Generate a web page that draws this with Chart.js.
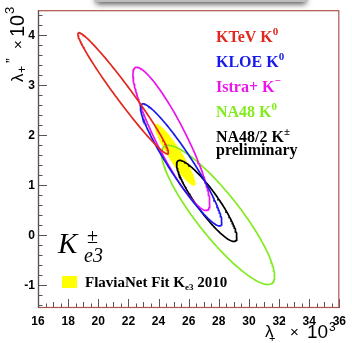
<!DOCTYPE html>
<html>
<head>
<meta charset="utf-8">
<script src="https://cdn.jsdelivr.net/npm/chart.js@4"></script>
<style>
  html, body { margin: 0; padding: 0; background: #fff; }
  #wrap { width: 352px; height: 343px; position: relative; }
</style>
</head>
<body>
<div id="wrap"><canvas id="myChart" width="352" height="343"></canvas></div>
<script>
// contours: centre, sigma along each axis and correlation
const names = ['KTeV', 'KLOE', 'Istra+', 'NA48', 'NA48/2', 'FlaviaNet'];
const centerX = [21.65, 25.5, 24.85, 27.95, 27.2, 25.1];
const centerY = [2.84, 1.41, 1.93, 0.41, 0.69, 1.61];
const sigmaX = [3.0, 2.7, 2.55, 3.75, 2.0, 1.35];
const sigmaY = [1.21, 1.22, 1.43, 1.39, 0.81, 0.62];
const rho = [-0.977, -0.94, -0.9, -0.88, -0.9, -0.92];
const xTicks = [16, 18, 20, 22, 24, 26, 28, 30, 32, 34, 36];
const yTicks = [-1, 0, 1, 2, 3, 4];

const colors = ['rgb(226,40,30)', 'rgb(25,25,235)', 'rgb(235,20,235)', 'rgb(130,236,30)', '#000', '#ffff00'];

// walk round each contour in data space
function contour(i) {
    const pts = [];
    const s = Math.sqrt(1 - rho[i] * rho[i]);
    for (let k = 0; k <= 180; k++) {
        const t = 2 * Math.PI * k / 180;
        pts.push({
            x: centerX[i] + sigmaX[i] * Math.cos(t),
            y: centerY[i] + sigmaY[i] * (rho[i] * Math.cos(t) + s * Math.sin(t))
        });
    }
    return pts;
}

const datasets = names.map((n, i) => {
    const filled = n === 'FlaviaNet';
    return {
        label: n,
        data: contour(i),
        showLine: true,
        pointRadius: 0,
        borderColor: filled ? 'rgba(0,0,0,0)' : colors[i],
        borderWidth: filled ? 0 : 1.7,
        backgroundColor: colors[i],
        fill: filled ? 'shape' : false,
        order: filled ? 10 : i,
        tension: 0
    };
});

// draw a run of text pieces one after another
function rich(ctx, x, y, parts) {
    parts.forEach(p => {
        ctx.font = p.f;
        ctx.fillText(p.t, x, y + (p.dy || 0));
        x += ctx.measureText(p.t).width + (p.gap || 0);
    });
    return x;
}

const decor = {
    id: 'decor',
    beforeDraw(chart) {
        const ctx = chart.ctx;
        ctx.save();
        // shadow of the title box above
        ctx.shadowColor = 'rgba(0,0,0,0.7)';
        ctx.shadowBlur = 6;
        ctx.shadowOffsetY = 2;
        ctx.fillStyle = '#bdbdbd';
        ctx.fillRect(96, -30, 210, 32);
        ctx.restore();
    },
    afterDraw(chart) {
        const ctx = chart.ctx;
        const a = chart.chartArea;
        const xs = chart.scales.x, ys = chart.scales.y;
        ctx.save();
        // ticks, pointing inward
        ctx.strokeStyle = '#555';
        ctx.lineWidth = 1;
        ctx.beginPath();
        for (let v = 16; v <= 36.001; v += 0.5) {
            const px = Math.round(xs.getPixelForValue(v)) + 0.5;
            const len = Math.abs(v % 2) < 1e-6 ? 9 : (Math.abs(v % 1) < 1e-6 ? 6 : 4.5);
            ctx.moveTo(px, a.bottom);
            ctx.lineTo(px, a.bottom - len);
        }
        for (let v = -1.4; v <= 4.41; v += 0.2) {
            const py = Math.round(ys.getPixelForValue(v)) + 0.5;
            const r = Math.round(v * 10) / 10;
            const len = Math.abs(r - Math.round(r)) < 1e-6 ? 9 : 4.5;
            ctx.moveTo(a.left, py);
            ctx.lineTo(a.left + len, py);
        }
        ctx.stroke();
        // frame
        ctx.strokeStyle = 'rgb(170,85,75)';
        ctx.lineWidth = 1.2;
        ctx.strokeRect(a.left + 0.5, a.top + 0.5, a.right - a.left - 1, a.bottom - a.top - 1);
        ctx.strokeStyle = '#555';
        ctx.beginPath();
        ctx.moveTo(a.left + 0.5, a.top);
        ctx.lineTo(a.left + 0.5, a.bottom);
        ctx.stroke();

        // experiment labels
        ctx.textBaseline = 'alphabetic';
        const serif = 'bold 16px "Liberation Serif", "DejaVu Serif", serif';
        const sup = 'bold 11px "Liberation Serif", serif';
        const rows = [
            { y: 42, c: colors[0], p: [{ t: 'KTeV K', f: serif }, { t: '0', f: sup, dy: -7 }] },
            { y: 67, c: colors[1], p: [{ t: 'KLOE K', f: serif }, { t: '0', f: sup, dy: -7 }] },
            { y: 92, c: colors[2], p: [{ t: 'Istra+ K', f: serif }, { t: '\u2212', f: sup, dy: -8 }] },
            { y: 117, c: colors[3], p: [{ t: 'NA48 K', f: serif }, { t: '0', f: sup, dy: -7 }] },
            { y: 142, c: '#000', p: [{ t: 'NA48/2 K', f: serif }, { t: '\u00b1', f: sup, dy: -7 }] },
            { y: 155, c: '#000', p: [{ t: 'preliminary', f: serif }] }
        ];
        rows.forEach(r => {
            ctx.fillStyle = r.c;
            rich(ctx, 216, r.y, r.p);
        });

        // K e3 symbol
        ctx.fillStyle = '#000';
        ctx.font = 'italic 29px "Liberation Serif", serif';
        ctx.fillText('K', 58, 253);
        ctx.font = '20px "Liberation Serif", serif';
        ctx.fillText('\u00b1', 87, 243);
        ctx.font = 'italic 20px "Liberation Serif", serif';
        ctx.fillText('e3', 84, 262);

        // legend entry
        ctx.fillStyle = colors[5];
        ctx.fillRect(62, 276, 15, 12);
        ctx.fillStyle = '#000';
        rich(ctx, 85, 287, [
            { t: 'FlaviaNet Fit K', f: 'bold 15px "Liberation Serif", serif' },
            { t: 'e3', f: 'bold 9px "Liberation Serif", serif', dy: 3 },
            { t: ' 2010', f: 'bold 15px "Liberation Serif", serif' }
        ]);

        // axis titles, pieces placed at fixed offsets from the start
        const sans = '"Liberation Sans", Arial, sans-serif';
        const place = (x0, y0, parts) => parts.forEach(p => {
            ctx.font = p.f;
            ctx.fillText(p.t, x0 + p.o, y0 + p.dy);
        });
        place(265, 337, [
            { t: '\u03bb', f: '17px ' + sans, o: 0, dy: 0 },
            { t: '+', f: '11px ' + sans, o: 4, dy: 5 },
            { t: "'", f: '14px ' + sans, o: 18, dy: -8 },
            { t: '\u00d7', f: '15px ' + sans, o: 25, dy: 0 },
            { t: '10', f: '19px ' + sans, o: 42, dy: 1 },
            { t: '3', f: '12px ' + sans, o: 64, dy: -6 }
        ]);
        ctx.translate(23, 82);
        ctx.rotate(-Math.PI / 2);
        place(0, 0, [
            { t: '\u03bb', f: '17px ' + sans, o: 0, dy: 0 },
            { t: '+', f: '12px ' + sans, o: 9, dy: 3 },
            { t: '\u201d', f: '14px ' + sans, o: 19, dy: -7 },
            { t: '\u00d7', f: '15px ' + sans, o: 33, dy: 0 },
            { t: '10', f: '20px ' + sans, o: 45, dy: 1 },
            { t: '3', f: '13px ' + sans, o: 68, dy: -9 }
        ]);
        ctx.restore();
    }
};

new Chart(document.getElementById('myChart').getContext('2d'), {
    type: 'scatter',
    data: { datasets: datasets },
    options: {
        responsive: false,
        animation: false,
        layout: { padding: { top: 7, right: 9, left: 0, bottom: 0 } },
        plugins: { legend: { display: false }, tooltip: { enabled: false } },
        scales: {
            x: {
                type: 'linear', min: 16, max: 36,
                afterBuildTicks: s => { s.ticks = xTicks.map(v => ({ value: v })); },
                afterFit: s => { s.height = 35; },
                grid: { display: false, drawTicks: false },
                border: { display: false },
                ticks: { color: '#000', padding: 6, maxRotation: 0, font: { family: 'Liberation Sans', size: 12, weight: 'bold' } }
            },
            y: {
                type: 'linear', min: -1.45, max: 4.5,
                afterBuildTicks: s => { s.ticks = yTicks.map(v => ({ value: v })); },
                afterFit: s => { s.width = 38; },
                grid: { display: false, drawTicks: false },
                border: { display: false },
                ticks: { color: '#000', padding: 3, font: { family: 'Liberation Sans', size: 12, weight: 'bold' } }
            }
        }
    },
    plugins: [decor]
});
</script>
</body>
</html>
